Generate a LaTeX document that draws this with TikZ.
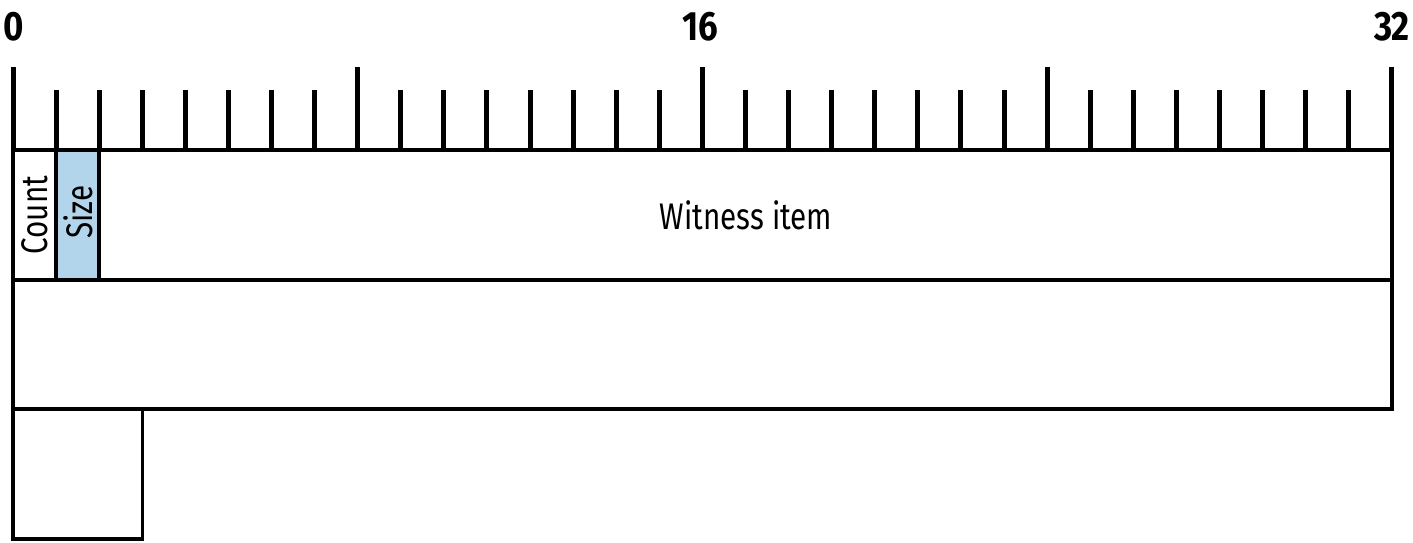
\documentclass[tikz,border=0pt]{standalone}
\usepackage{fontspec}
\setmainfont{Fira Sans}
\newfontfamily\labfont[FakeStretch=0.8]{Fira Sans}
\newfontfamily\numfont[FakeStretch=0.85]{Fira Sans}
\definecolor{sizeblue}{RGB}{179,213,236}
\begin{document}
\begin{tikzpicture}[x=1pt,y=-1pt,
  tickline/.style={line width=5pt},
  boxline/.style={line width=3.5pt},
  lbl/.style={font=\labfont\fontsize{37}{40}\selectfont, inner sep=0pt},
  numlbl/.style={font=\numfont\bfseries\fontsize{41}{44}\selectfont, inner sep=0pt}]
\useasboundingbox (0,0) rectangle (1413,542);
\foreach \i in {0,...,32}{
  \pgfmathsetmacro\xx{13+\i*43.09}
  \pgfmathtruncatemacro\mm{mod(\i,8)}
  \ifnum\mm=0
    \draw[tickline] (\xx,67) -- (\xx,150);
  \else
    \draw[tickline] (\xx,90) -- (\xx,150);
  \fi
}
\draw[boxline, fill=sizeblue] (56.09,150) rectangle (99.18,280);
\draw[boxline] (13,150) rectangle (1392,280);
\draw[boxline] (13,280) rectangle (1392,409);
\draw[boxline] (13,409) rectangle (142.3,539);
\node[numlbl] (n0) at (14,27) {0};
\node[numlbl] (n16) at (700,27) {16};
\node[numlbl] (n32) at (1392,27) {32};
\node[lbl, rotate=90] (count) at (35,215) {Count};
\node[lbl, rotate=90] (size) at (78,212) {Size};
\node[lbl] (wit) at (746,215) {Witness item};
\end{tikzpicture}
\end{document}
